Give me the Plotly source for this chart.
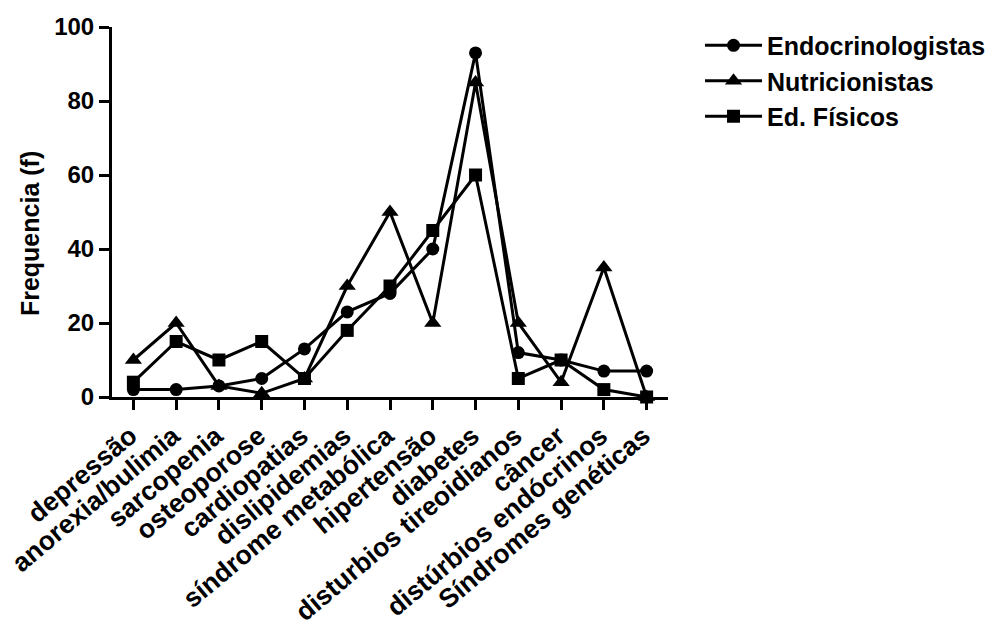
import plotly.graph_objects as go

categorias = [
    "depressão", "anorexia/bulimia", "sarcopenia", "osteoporose",
    "cardiopatias", "dislipidemias", "síndrome metabólica", "hipertensão",
    "diabetes", "disturbios tireoidianos", "câncer", "distúrbios endócrinos",
    "Síndromes genéticas",
]
endocrinologistas = [2, 2, 3, 5, 13, 23, 28, 40, 93, 12, 10, 7, 7]
nutricionistas = [10, 20, 3, 1, 5, 30, 50, 20, 85, 20, 4, 35, 0]
ed_fisicos = [4, 15, 10, 15, 5, 18, 30, 45, 60, 5, 10, 2, 0]
y_ticks = [0, 20, 40, 60, 80, 100]

FONT = "Liberation Sans, Arial, sans-serif"
x_idx = list(range(len(categorias)))

fig = go.Figure()
series = [
    ("Endocrinologistas", endocrinologistas, "circle", 13),
    ("Nutricionistas", nutricionistas, "triangle-up", 15),
    ("Ed. Físicos", ed_fisicos, "square", 13),
]
for name, vals, sym, size in series:
    fig.add_trace(go.Scatter(
        x=x_idx, y=vals, name=name, mode="lines+markers",
        line=dict(color="black", width=3),
        marker=dict(symbol=sym, size=size, color="black"),
        cliponaxis=False,
    ))

fig.update_layout(
    width=1001, height=627,
    margin=dict(l=112, r=333, t=27, b=230, autoexpand=False),
    plot_bgcolor="white", paper_bgcolor="white",
    font=dict(family=FONT, color="black", size=24, weight="bold"),
    legend=dict(
        x=1.0576, y=1.012, xanchor="left", yanchor="top",
        font=dict(size=25, family=FONT, weight="bold"),
        itemwidth=57, tracegroupgap=0, bgcolor="rgba(0,0,0,0)",
    ),
    showlegend=True,
    annotations=[dict(
        text="Frequencia (f)", textangle=-90, showarrow=False,
        xref="paper", yref="paper", x=-0.1475, y=0.443,
        xanchor="center", yanchor="middle",
        font=dict(size=25, family=FONT, weight="bold", color="black"),
    )],
)
fig.update_xaxes(
    range=[-0.5, len(categorias) - 0.5],
    tickmode="array", tickvals=x_idx, ticktext=categorias,
    tickangle=-40, tickfont=dict(size=26.5, family=FONT, weight="bold"),
    ticklabelshift=-3,
    showline=True, linecolor="black", linewidth=3,
    ticks="outside", ticklen=10, tickwidth=3, tickcolor="black",
    showgrid=False, zeroline=False, automargin=False,
)
fig.update_yaxes(
    range=[0, 100],
    tickmode="array", tickvals=y_ticks,
    tickfont=dict(size=24, family=FONT, weight="bold"),
    showline=True, linecolor="black", linewidth=3,
    ticks="outside", ticklen=10, tickwidth=3, tickcolor="black",
    showgrid=False, zeroline=False, automargin=False,
)

fig.write_html("out.html")
